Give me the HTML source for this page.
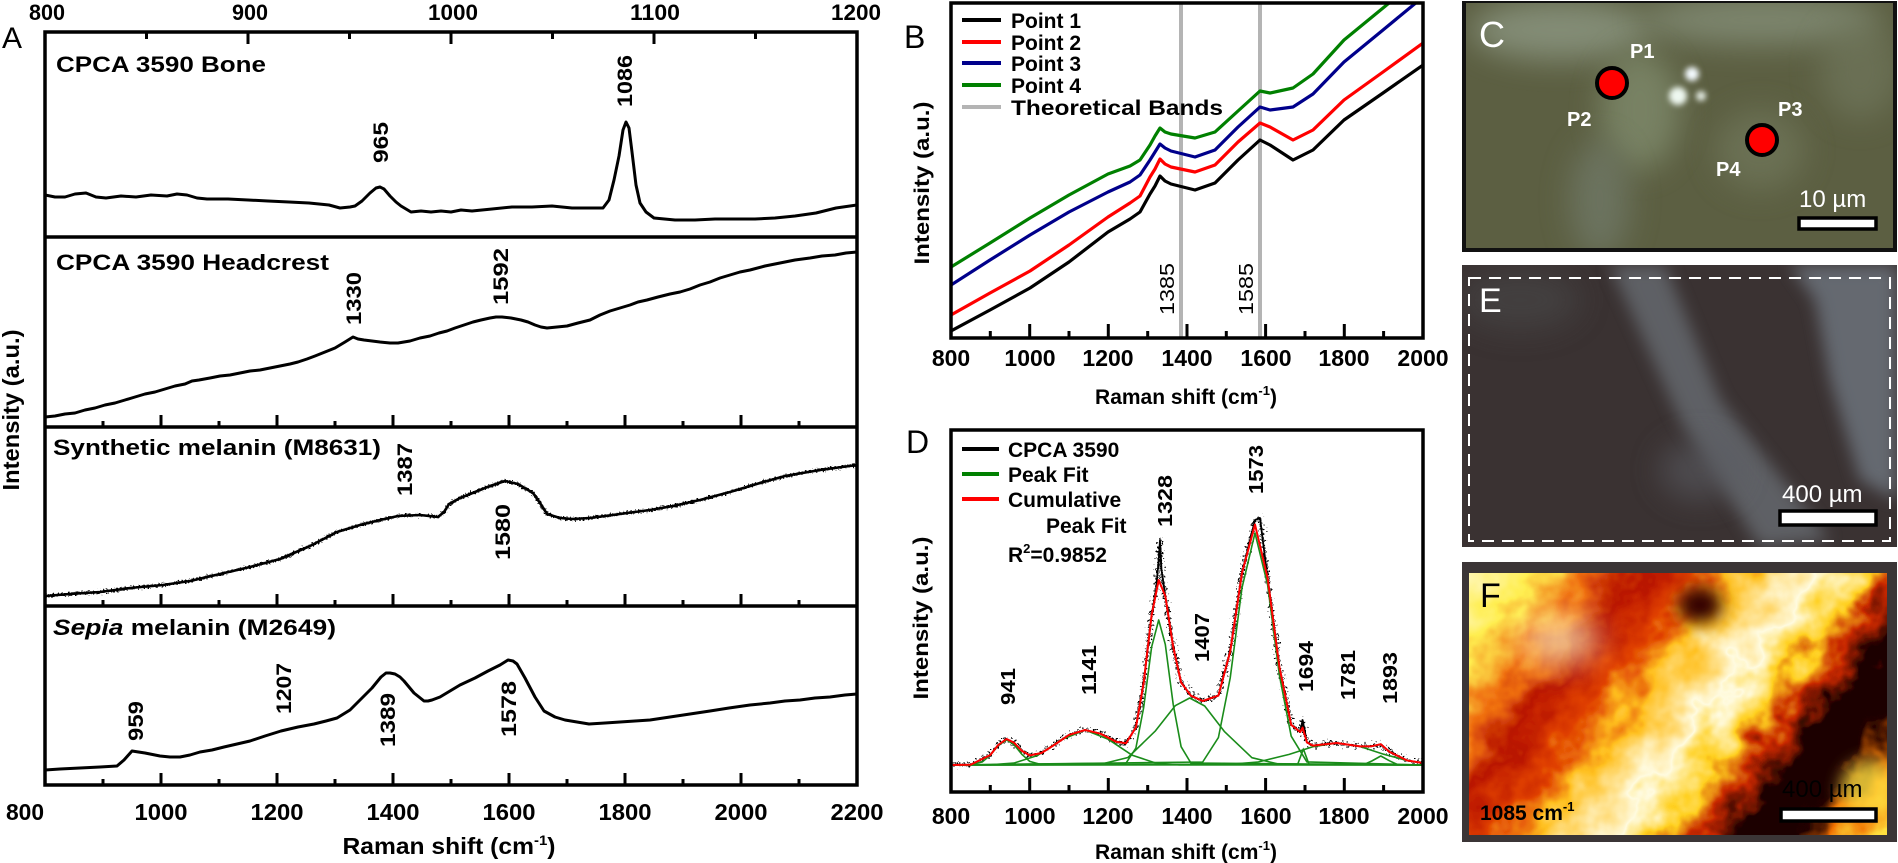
<!DOCTYPE html>
<html><head><meta charset="utf-8"><style>
html,body{margin:0;padding:0;background:#fff;}
svg{display:block;}
text{font-family:"Liberation Sans",Arial,sans-serif;}
</style></head><body>
<svg width="1898" height="863" viewBox="0 0 1898 863" xmlns="http://www.w3.org/2000/svg">
<defs>
<clipPath id="cA1"><rect x="45" y="32" width="812" height="205"/></clipPath>
<clipPath id="cA2"><rect x="45" y="237" width="812" height="190"/></clipPath>
<clipPath id="cA3"><rect x="45" y="427" width="812" height="179"/></clipPath>
<clipPath id="cA4"><rect x="45" y="606" width="812" height="179"/></clipPath>
<clipPath id="cB"><rect x="951" y="3" width="472" height="335"/></clipPath>
<clipPath id="cD"><rect x="951" y="430" width="472" height="362"/></clipPath>
<clipPath id="cC"><rect x="1466" y="3" width="427" height="245"/></clipPath>
<clipPath id="cE"><rect x="1462" y="265" width="435" height="282"/></clipPath>
<clipPath id="cF"><rect x="1469" y="573" width="418" height="262"/></clipPath>
<filter id="bl8" x="-100%" y="-100%" width="300%" height="300%"><feGaussianBlur stdDeviation="8"/></filter>
<filter id="bl15" x="-100%" y="-100%" width="300%" height="300%"><feGaussianBlur stdDeviation="15"/></filter>
<filter id="bl3" x="-100%" y="-100%" width="300%" height="300%"><feGaussianBlur stdDeviation="3"/></filter>
<filter id="n4" x="-5%" y="-30%" width="110%" height="160%"><feTurbulence type="fractalNoise" baseFrequency="0.6" numOctaves="1" seed="5" result="t"/><feDisplacementMap in="SourceGraphic" in2="t" scale="7" xChannelSelector="R" yChannelSelector="G"/></filter>
<filter id="n8" x="-5%" y="-30%" width="110%" height="160%"><feTurbulence type="fractalNoise" baseFrequency="0.45" numOctaves="1" seed="7" result="t"/><feDisplacementMap in="SourceGraphic" in2="t" scale="16" xChannelSelector="R" yChannelSelector="G"/></filter>
<filter id="mot" x="-10%" y="-10%" width="120%" height="120%"><feTurbulence type="fractalNoise" baseFrequency="0.035" numOctaves="3" seed="9" result="t"/><feDisplacementMap in="SourceGraphic" in2="t" scale="60" xChannelSelector="R" yChannelSelector="G"/></filter>
<linearGradient id="gF" gradientUnits="userSpaceOnUse" x1="1469" y1="573" x2="1856" y2="872">
<stop offset="0" stop-color="#fff6b0"/><stop offset=".1" stop-color="#ffee50"/>
<stop offset=".2" stop-color="#f07010"/><stop offset=".28" stop-color="#b81400"/>
<stop offset=".36" stop-color="#e04000"/><stop offset=".44" stop-color="#ffc020"/>
<stop offset=".56" stop-color="#fffbe0"/><stop offset=".64" stop-color="#ffd020"/>
<stop offset=".7" stop-color="#c82800"/><stop offset=".76" stop-color="#1a0000"/>
<stop offset=".86" stop-color="#200000"/><stop offset=".93" stop-color="#f07000"/>
<stop offset="1" stop-color="#ffe040"/></linearGradient>
</defs>

<!-- ============ PANEL A ============ -->
<text x="2" y="48" font-size="30">A</text>
<g font-weight="bold" font-size="22" text-anchor="middle">
<text x="47" y="20" textLength="36" lengthAdjust="spacingAndGlyphs">800</text>
<text x="250" y="20" textLength="36" lengthAdjust="spacingAndGlyphs">900</text>
<text x="453" y="20" textLength="50" lengthAdjust="spacingAndGlyphs">1000</text>
<text x="655" y="20" textLength="50" lengthAdjust="spacingAndGlyphs">1100</text>
<text x="856" y="20" textLength="50" lengthAdjust="spacingAndGlyphs">1200</text>
</g>
<g fill="none" stroke="#000" stroke-width="3">
<path d="M146.5,32V39M248,32V44M349.5,32V39M451,32V44M552.5,32V39M654,32V44M755.5,32V39"/>
<path d="M103,427V421M161,427V415M219,427V421M277,427V415M335,427V421M393,427V415M451,427V421M509,427V415M567,427V421M625,427V415M683,427V421M741,427V415M799,427V421"/>
<path d="M103,606V600M161,606V594M219,606V600M277,606V594M335,606V600M393,606V594M451,606V600M509,606V594M567,606V600M625,606V594M683,606V600M741,606V594M799,606V600"/>
<path d="M103,785V779M161,785V773M219,785V779M277,785V773M335,785V779M393,785V773M451,785V779M509,785V773M567,785V779M625,785V773M683,785V779M741,785V773M799,785V779"/>
</g>
<g fill="none" stroke="#000" stroke-width="3.5">
<rect x="45" y="32" width="812" height="753"/>
<line x1="45" y1="237" x2="857" y2="237"/>
<line x1="45" y1="427" x2="857" y2="427"/>
<line x1="45" y1="606" x2="857" y2="606"/>
</g>
<g fill="none" stroke="#000" stroke-width="3" stroke-linejoin="round">
<path clip-path="url(#cA1)" d="M45,195 L55,197 65,197 75,194 86,193 96,197 106,198 121,196 136,197 151,195 167,196 177,194 187,195 197,198 207,199 228,199 248,200 268,201 289,202 309,203 329,205 340,208 350,207 355,206 362,201 370,193 376,188 380,187 384,189 390,196 396,202 401,206 411,212 421,211 431,212 441,211 451,212 461,210 472,211 482,210 492,209 512,207 532,207 552,206 572,208 592,208 603,208 609,200 614,180 619,156 623,130 626,122 629,128 632,152 636,185 640,203 646,212 654,218 675,220 695,220 715,219 735,219 755,219 775,218 795,216 816,213 836,208 857,205"/>
<g clip-path="url(#cA2)"><path stroke-width="3" d="M45,417 L55,416 65,414 75,413 85,410 95,408 105,405 115,403 125,400 135,397 145,394 155,392 165,389 175,386 185,384 192,381 199,380 210,378 220,376 230,375 240,373 250,371 260,370 270,368 280,366 290,364 298,362 307,359 315,356 325,352 335,348 345,342 353,337 358,339 364,340 372,341 380,342 390,343 398,343 410,341 420,338 430,336 439,333 447,331 455,328 464,325 473,322 481,320 490,318 496,317 502,317 511,318 521,320 528,322 535,325 541,327 547,328 557,327 567,326 578,323 590,320 600,315 610,311 620,308 630,305 638,302 647,300 658,297 670,294 680,292 690,289 700,285 710,282 720,278 730,275 740,272 750,270 765,266 780,263 795,260 810,258 822,256 835,255 846,253 857,252"/></g>
<g clip-path="url(#cA3)">
<path stroke-width="2.6" d="M45,596 L70,594 100,592 130,588 163,585 190,581 220,574 250,567 280,559 310,546 337,532 360,525 380,520 398,516 420,515 438,517 444,512 449,504 460,498 475,492 490,486 505,481 518,484 533,493 540,503 547,514 560,518 572,519 590,518 620,514 650,510 673,506 700,500 730,492 760,483 785,476 820,470 857,465"/>
<path filter="url(#n4)" stroke-width="2.4" d="M45,596 L70,594 100,592 130,588 163,585 190,581 220,574 250,567 280,559 310,546 337,532 360,525 380,520 398,516 420,515 438,517 444,512 449,504 460,498 475,492 490,486 505,481 518,484 533,493 540,503 547,514 560,518 572,519 590,518 620,514 650,510 673,506 700,500 730,492 760,483 785,476 820,470 857,465"/>
</g>
<g clip-path="url(#cA4)"><path stroke-width="3" d="M45,770 L60,769 80,768 100,767 117,766 124,760 132,751 145,753 160,756 170,757 180,757 190,755 200,752 212,750 224,747 237,744 250,741 265,736 281,731 298,727 314,724 326,721 337,718 350,710 360,700 372,688 381,677 386,673 390,673 395,674 400,677 404,681 414,693 424,701 428,701 432,700 440,697 450,691 460,685 475,678 488,671 500,665 508,660 513,661 517,664 525,678 535,697 544,711 555,717 565,720 577,722 589,724 605,723 620,722 635,721 650,720 670,717 690,714 710,711 729,708 750,705 770,703 785,701 800,700 815,698 830,697 845,695 857,694"/></g>
</g>
<g font-weight="bold" font-size="22">
<text x="56" y="72" textLength="210" lengthAdjust="spacingAndGlyphs">CPCA 3590 Bone</text>
<text x="56" y="270" textLength="273" lengthAdjust="spacingAndGlyphs">CPCA 3590 Headcrest</text>
<text x="53" y="455" textLength="328" lengthAdjust="spacingAndGlyphs">Synthetic melanin (M8631)</text>
<text x="53" y="635" textLength="283" lengthAdjust="spacingAndGlyphs"><tspan font-style="italic">Sepia</tspan> melanin (M2649)</text>
</g>
<g font-weight="bold" font-size="21">
<text transform="translate(388,163) rotate(-90)" textLength="41" lengthAdjust="spacingAndGlyphs">965</text>
<text transform="translate(632,107) rotate(-90)" textLength="52" lengthAdjust="spacingAndGlyphs">1086</text>
<text transform="translate(361,325) rotate(-90)" textLength="53" lengthAdjust="spacingAndGlyphs">1330</text>
<text transform="translate(508,305) rotate(-90)" textLength="57" lengthAdjust="spacingAndGlyphs">1592</text>
<text transform="translate(412,496) rotate(-90)" textLength="53" lengthAdjust="spacingAndGlyphs">1387</text>
<text transform="translate(510,560) rotate(-90)" textLength="56" lengthAdjust="spacingAndGlyphs">1580</text>
<text transform="translate(143,741) rotate(-90)" textLength="40" lengthAdjust="spacingAndGlyphs">959</text>
<text transform="translate(291,714) rotate(-90)" textLength="51" lengthAdjust="spacingAndGlyphs">1207</text>
<text transform="translate(395,747) rotate(-90)" textLength="54" lengthAdjust="spacingAndGlyphs">1389</text>
<text transform="translate(516,737) rotate(-90)" textLength="56" lengthAdjust="spacingAndGlyphs">1578</text>
</g>
<g font-weight="bold" font-size="23" text-anchor="middle">
<text x="25" y="820" textLength="38" lengthAdjust="spacingAndGlyphs">800</text>
<text x="161" y="820" textLength="53" lengthAdjust="spacingAndGlyphs">1000</text>
<text x="277" y="820" textLength="53" lengthAdjust="spacingAndGlyphs">1200</text>
<text x="393" y="820" textLength="53" lengthAdjust="spacingAndGlyphs">1400</text>
<text x="509" y="820" textLength="53" lengthAdjust="spacingAndGlyphs">1600</text>
<text x="625" y="820" textLength="53" lengthAdjust="spacingAndGlyphs">1800</text>
<text x="741" y="820" textLength="53" lengthAdjust="spacingAndGlyphs">2000</text>
<text x="857" y="820" textLength="53" lengthAdjust="spacingAndGlyphs">2200</text>
<text x="449" y="854" textLength="213" lengthAdjust="spacingAndGlyphs">Raman shift (cm<tspan font-size="14" dy="-9">-1</tspan><tspan dy="9">)</tspan></text>
<text transform="translate(19,410) rotate(-90)" textLength="161" lengthAdjust="spacingAndGlyphs">Intensity (a.u.)</text>
</g>

<!-- ============ PANEL B ============ -->
<text x="904" y="48" font-size="32">B</text>
<line x1="1181" y1="3" x2="1181" y2="338" stroke="#b4b4b4" stroke-width="4"/>
<line x1="1260" y1="3" x2="1260" y2="338" stroke="#b4b4b4" stroke-width="4"/>
<g clip-path="url(#cB)"><g fill="none" stroke-width="3.2" stroke-linejoin="round">
<path stroke="#008000" d="M951,267 L990,243 1030,218 1069,195 1108,174 1130,166 1140,160 1150,145 1155,136 1160,128 1165,132 1171,134 1195,138 1215,132 1238,111 1260,91 1270,93 1293,88 1313,74 1344,40 1383,8 1423,-25"/>
<path stroke="#00008b" d="M951,285 L990,260 1030,235 1069,212 1108,192 1130,182 1140,175 1150,160 1155,152 1160,144 1165,148 1171,151 1195,157 1215,150 1238,127 1260,107 1270,110 1293,107 1313,94 1344,62 1383,30 1423,-3"/>
<path stroke="#f00" d="M951,315 L990,293 1030,271 1069,245 1108,217 1130,203 1140,196 1150,177 1155,169 1160,159 1165,164 1171,167 1195,172 1215,165 1238,142 1260,123 1270,127 1293,140 1313,130 1344,100 1383,72 1423,43"/>
<path stroke="#000" d="M951,331 L990,310 1030,288 1069,262 1108,232 1130,219 1140,212 1150,194 1155,186 1160,176 1165,181 1171,184 1195,190 1215,183 1238,160 1260,140 1270,145 1293,160 1313,150 1344,120 1383,93 1423,65"/>
</g></g>
<rect x="951" y="3" width="472" height="335" fill="none" stroke="#000" stroke-width="3.5"/>
<path fill="none" stroke="#000" stroke-width="3" d="M990.3,338V331M1029.7,338V324M1069,338V331M1108.3,338V324M1147.7,338V331M1187,338V324M1226.3,338V331M1265.6,338V324M1305,338V331M1344.3,338V324M1383.6,338V331"/>
<g stroke-width="4">
<line x1="962" y1="20" x2="1001" y2="20" stroke="#000"/>
<line x1="962" y1="42" x2="1001" y2="42" stroke="#f00"/>
<line x1="962" y1="63" x2="1001" y2="63" stroke="#00008b"/>
<line x1="962" y1="85" x2="1001" y2="85" stroke="#008000"/>
<line x1="962" y1="107" x2="1001" y2="107" stroke="#b4b4b4"/>
</g>
<g font-weight="bold" font-size="21">
<text x="1011" y="28">Point 1</text>
<text x="1011" y="50">Point 2</text>
<text x="1011" y="71">Point 3</text>
<text x="1011" y="93">Point 4</text>
<text x="1011" y="115" textLength="212" lengthAdjust="spacingAndGlyphs">Theoretical Bands</text>
</g>
<g font-size="20">
<text transform="translate(1174,315) rotate(-90)" textLength="52" lengthAdjust="spacingAndGlyphs">1385</text>
<text transform="translate(1253,315) rotate(-90)" textLength="52" lengthAdjust="spacingAndGlyphs">1585</text>
</g>
<g font-weight="bold" font-size="23" text-anchor="middle">
<text x="951" y="366">800</text>
<text x="1030" y="366">1000</text>
<text x="1108" y="366">1200</text>
<text x="1187" y="366">1400</text>
<text x="1266" y="366">1600</text>
<text x="1344" y="366">1800</text>
<text x="1423" y="366">2000</text>
</g>
<g font-weight="bold" font-size="21" text-anchor="middle">
<text x="1186" y="404">Raman shift (cm<tspan font-size="13" dy="-9">-1</tspan><tspan dy="9">)</tspan></text>
<text transform="translate(929,183) rotate(-90)" textLength="163" lengthAdjust="spacingAndGlyphs">Intensity (a.u.)</text>
</g>

<!-- ============ PANEL D ============ -->
<text x="906" y="453" font-size="32">D</text>
<g clip-path="url(#cD)" fill="none" stroke-linejoin="round">
<path stroke="#000" stroke-width="1.8" d="M951,765 L970.7,764.7 990.3,755 998.2,745 1006.5,739 1013.9,742.6 1021.8,750.8 1029.7,755.4 1041.5,753 1053.3,745.5 1069,734.9 1085.1,730 1100.5,733.7 1116.2,741.8 1126,743.3 1135.9,727.4 1143.7,682.6 1151.6,615.3 1156,590 1158.7,560 1160,540 1161.5,570 1165.3,596 1173.2,647 1181.1,682.5 1190.9,695.7 1202.7,701 1218.4,695.6 1230.2,651.5 1242,573 1255,520 1260,518 1267.6,578 1279.4,667 1291.2,724.8 1300.2,732 1302.6,720 1306.9,742.4 1312.8,745.6 1336.8,743 1360,746.4 1371.8,746.2 1380.8,744.2 1389.5,751.9 1407.2,760.5 1423,763"/>
<path filter="url(#n8)" stroke="#000" stroke-width="1.8" d="M951,765 L970.7,764.7 990.3,755 998.2,745 1006.5,739 1013.9,742.6 1021.8,750.8 1029.7,755.4 1041.5,753 1053.3,745.5 1069,734.9 1085.1,730 1100.5,733.7 1116.2,741.8 1126,743.3 1135.9,727.4 1143.7,682.6 1151.6,615.3 1156,590 1158.7,560 1160,540 1161.5,570 1165.3,596 1173.2,647 1181.1,682.5 1190.9,695.7 1202.7,701 1218.4,695.6 1230.2,651.5 1242,573 1255,520 1260,518 1267.6,578 1279.4,667 1291.2,724.8 1300.2,732 1302.6,720 1306.9,742.4 1312.8,745.6 1336.8,743 1360,746.4 1371.8,746.2 1380.8,744.2 1389.5,751.9 1407.2,760.5 1423,763"/>
<g stroke="#1a8c1a" stroke-width="1.6">
<path d="M951,765 L970.7,764.7 982.5,761.8 990.3,755.2 998.2,745.5 1006.5,740 1013.9,744.5 1021.8,754.3 1029.7,761.4 1041.5,764.7 1423,765"/>
<path d="M951,765 L990.3,764.8 1013.9,763.1 1037.5,755.5 1061.1,739.9 1085.1,730 1108.3,739.3 1131.9,755.1 1155.5,763 1179.1,764.8 1423,765"/>
<path d="M951,765 L1126,763.2 1135.9,748 1143.7,707.3 1151.6,647.1 1158.7,620 1165.3,644.4 1173.2,704.4 1181.1,746.7 1190.9,763 1423,765"/>
<path d="M951,765 L1100.5,764.3 1128,757.5 1155.5,730.8 1175.2,705.7 1189.7,698 1204.7,706 1224.3,731.4 1251.9,757.7 1279.4,764.3 1423,765"/>
<path d="M951,765 L1202.7,762 1218.4,737.6 1230.2,678 1242,587.8 1255,533 1267.6,584.8 1279.4,675.2 1291.2,736.2 1306.9,761.9 1423,765"/>
<path d="M951,765 L1297.8,764 1301,755.3 1303.4,749 1305.7,755.3 1308.9,764 1423,765"/>
<path d="M951,765 L1226.2,764.6 1257.7,762.1 1289.2,754.4 1312.8,746.7 1336.8,743 1360,746.5 1383.6,754.2 1407.2,760.6 1423,763"/>
<path d="M951,765 L1364,764.5 1371.8,761 1380.8,756 1389.5,760.8 1397.4,764.5 1423,765"/>
</g>
<path stroke="#f00" stroke-width="2" d="M951,765 L970.7,764.7 990.3,755 998.2,745 1006.5,739 1013.9,742.6 1021.8,750.8 1029.7,755.4 1041.5,753 1053.3,745.5 1069,734.9 1085.1,730 1100.5,733.7 1116.2,741.8 1126,743.3 1135.9,727.4 1143.7,682.6 1151.6,615.3 1158.7,580 1165.3,596 1173.2,647 1181.1,682.5 1190.9,695.7 1202.7,701 1218.4,695.6 1230.2,651.5 1242,573 1255,524.5 1267.6,578 1279.4,667 1291.2,724.8 1300.2,732 1302.6,727.6 1306.9,742.4 1312.8,745.6 1336.8,743 1360,746.4 1371.8,746.2 1380.8,744.2 1389.5,751.9 1407.2,760.5 1423,763"/>
</g>
<rect x="951" y="430" width="472" height="362" fill="none" stroke="#000" stroke-width="3.5"/>
<path fill="none" stroke="#000" stroke-width="3" d="M990.3,792V785M1029.7,792V778M1069,792V785M1108.3,792V778M1147.7,792V785M1187,792V778M1226.3,792V785M1265.6,792V778M1305,792V785M1344.3,792V778M1383.6,792V785"/>
<g stroke-width="4">
<line x1="962" y1="449" x2="999" y2="449" stroke="#000"/>
<line x1="962" y1="474" x2="999" y2="474" stroke="#008000"/>
<line x1="962" y1="499" x2="999" y2="499" stroke="#f00"/>
</g>
<g font-weight="bold" font-size="21">
<text x="1008" y="457">CPCA 3590</text>
<text x="1008" y="482">Peak Fit</text>
<text x="1008" y="507">Cumulative</text>
<text x="1046" y="533">Peak Fit</text>
<text x="1008" y="562">R<tspan font-size="13" dy="-9">2</tspan><tspan dy="9">=0.9852</tspan></text>
</g>
<g font-weight="bold" font-size="20">
<text transform="translate(1015,705) rotate(-90)" textLength="37" lengthAdjust="spacingAndGlyphs">941</text>
<text transform="translate(1096,695) rotate(-90)" textLength="50" lengthAdjust="spacingAndGlyphs">1141</text>
<text transform="translate(1172,527) rotate(-90)" textLength="52" lengthAdjust="spacingAndGlyphs">1328</text>
<text transform="translate(1209,662) rotate(-90)" textLength="49" lengthAdjust="spacingAndGlyphs">1407</text>
<text transform="translate(1263,494) rotate(-90)" textLength="49" lengthAdjust="spacingAndGlyphs">1573</text>
<text transform="translate(1313,692) rotate(-90)" textLength="51" lengthAdjust="spacingAndGlyphs">1694</text>
<text transform="translate(1355,700) rotate(-90)" textLength="50" lengthAdjust="spacingAndGlyphs">1781</text>
<text transform="translate(1397,704) rotate(-90)" textLength="52" lengthAdjust="spacingAndGlyphs">1893</text>
</g>
<g font-weight="bold" font-size="23" text-anchor="middle">
<text x="951" y="824">800</text>
<text x="1030" y="824">1000</text>
<text x="1108" y="824">1200</text>
<text x="1187" y="824">1400</text>
<text x="1266" y="824">1600</text>
<text x="1344" y="824">1800</text>
<text x="1423" y="824">2000</text>
</g>
<g font-weight="bold" font-size="21" text-anchor="middle">
<text x="1186" y="859">Raman shift (cm<tspan font-size="13" dy="-9">-1</tspan><tspan dy="9">)</tspan></text>
<text transform="translate(928,618) rotate(-90)" textLength="163" lengthAdjust="spacingAndGlyphs">Intensity (a.u.)</text>
</g>

<!-- ============ PANEL C ============ -->
<rect x="1462" y="1" width="435" height="251" fill="#111"/>
<g clip-path="url(#cC)">
<rect x="1466" y="3" width="427" height="245" fill="#5c5f42"/>
<ellipse cx="1560" cy="30" rx="90" ry="30" fill="#8d9883" filter="url(#bl15)" opacity=".8"/>
<ellipse cx="1760" cy="20" rx="120" ry="25" fill="#8a9580" filter="url(#bl15)" opacity=".7"/>
<ellipse cx="1640" cy="110" rx="40" ry="60" fill="#7f8a6c" filter="url(#bl15)" opacity=".8"/>
<ellipse cx="1600" cy="200" rx="30" ry="60" fill="#6f7866" filter="url(#bl15)" opacity=".8"/>
<ellipse cx="1760" cy="150" rx="45" ry="40" fill="#6e7558" filter="url(#bl15)" opacity=".8"/>
<ellipse cx="1860" cy="70" rx="40" ry="50" fill="#737a60" filter="url(#bl15)" opacity=".6"/>
<circle cx="1678" cy="96" r="9" fill="#eef8f0" filter="url(#bl3)"/>
<circle cx="1692" cy="74" r="7" fill="#f4fbff" filter="url(#bl3)"/>
<circle cx="1701" cy="96" r="5" fill="#e8f0e8" filter="url(#bl3)"/>
</g>
<text x="1479" y="47" font-size="36" fill="#fff">C</text>
<circle cx="1612" cy="83" r="15" fill="#f00" stroke="#000" stroke-width="4"/>
<circle cx="1762" cy="140" r="15" fill="#f00" stroke="#000" stroke-width="4"/>
<g font-weight="bold" font-size="20" fill="#fff">
<text x="1630" y="58">P1</text><text x="1567" y="126">P2</text>
<text x="1778" y="116">P3</text><text x="1716" y="176">P4</text>
</g>
<text x="1799" y="207" font-size="24" fill="#fff">10 µm</text>
<rect x="1799" y="218" width="77" height="11" fill="#fff" stroke="#000" stroke-width="3.5"/>

<!-- ============ PANEL E ============ -->
<g clip-path="url(#cE)">
<rect x="1462" y="265" width="435" height="282" fill="#3a3232"/>
<path d="M1610,265 L1665,265 L1720,400 L1830,540 L1760,547 L1680,420 Z" fill="#6b7076" filter="url(#bl8)" opacity=".75"/>
<path d="M1790,265 L1897,265 L1897,500 L1860,480 L1830,380 L1815,300 Z" fill="#6f7780" filter="url(#bl8)" opacity=".8"/>
<ellipse cx="1700" cy="470" rx="40" ry="30" fill="#5a5c62" filter="url(#bl15)" opacity=".6"/>
<ellipse cx="1520" cy="300" rx="60" ry="30" fill="#4a4848" filter="url(#bl15)" opacity=".6"/>
</g>
<rect x="1469" y="278" width="421" height="263" fill="none" stroke="#fff" stroke-width="2" stroke-dasharray="12,8"/>
<text x="1479" y="312" font-size="34" fill="#fff">E</text>
<text x="1782" y="502" font-size="24" fill="#fff">400 µm</text>
<rect x="1780" y="511" width="96" height="14" fill="#fff" stroke="#000" stroke-width="3.5"/>

<!-- ============ PANEL F ============ -->
<rect x="1462" y="562" width="435" height="280" fill="#3b3536"/>
<g clip-path="url(#cF)">
<rect x="1440" y="545" width="476" height="318" fill="url(#gF)" filter="url(#mot)"/>
<ellipse cx="1700" cy="605" rx="22" ry="18" fill="#300000" filter="url(#bl8)"/>
<ellipse cx="1560" cy="640" rx="40" ry="25" fill="#fff8c0" filter="url(#bl15)" opacity=".7"/>
<ellipse cx="1870" cy="790" rx="30" ry="30" fill="#ffe040" filter="url(#bl8)" opacity=".8"/>
</g>
<text x="1480" y="607" font-size="34">F</text>
<text x="1480" y="820" font-size="21" font-weight="bold">1085 cm<tspan font-size="13" dy="-9">-1</tspan></text>
<text x="1782" y="797" font-size="24">400 µm</text>
<rect x="1781" y="809" width="95" height="12" fill="#fff" stroke="#000" stroke-width="3.5"/>
</svg>
</body></html>
